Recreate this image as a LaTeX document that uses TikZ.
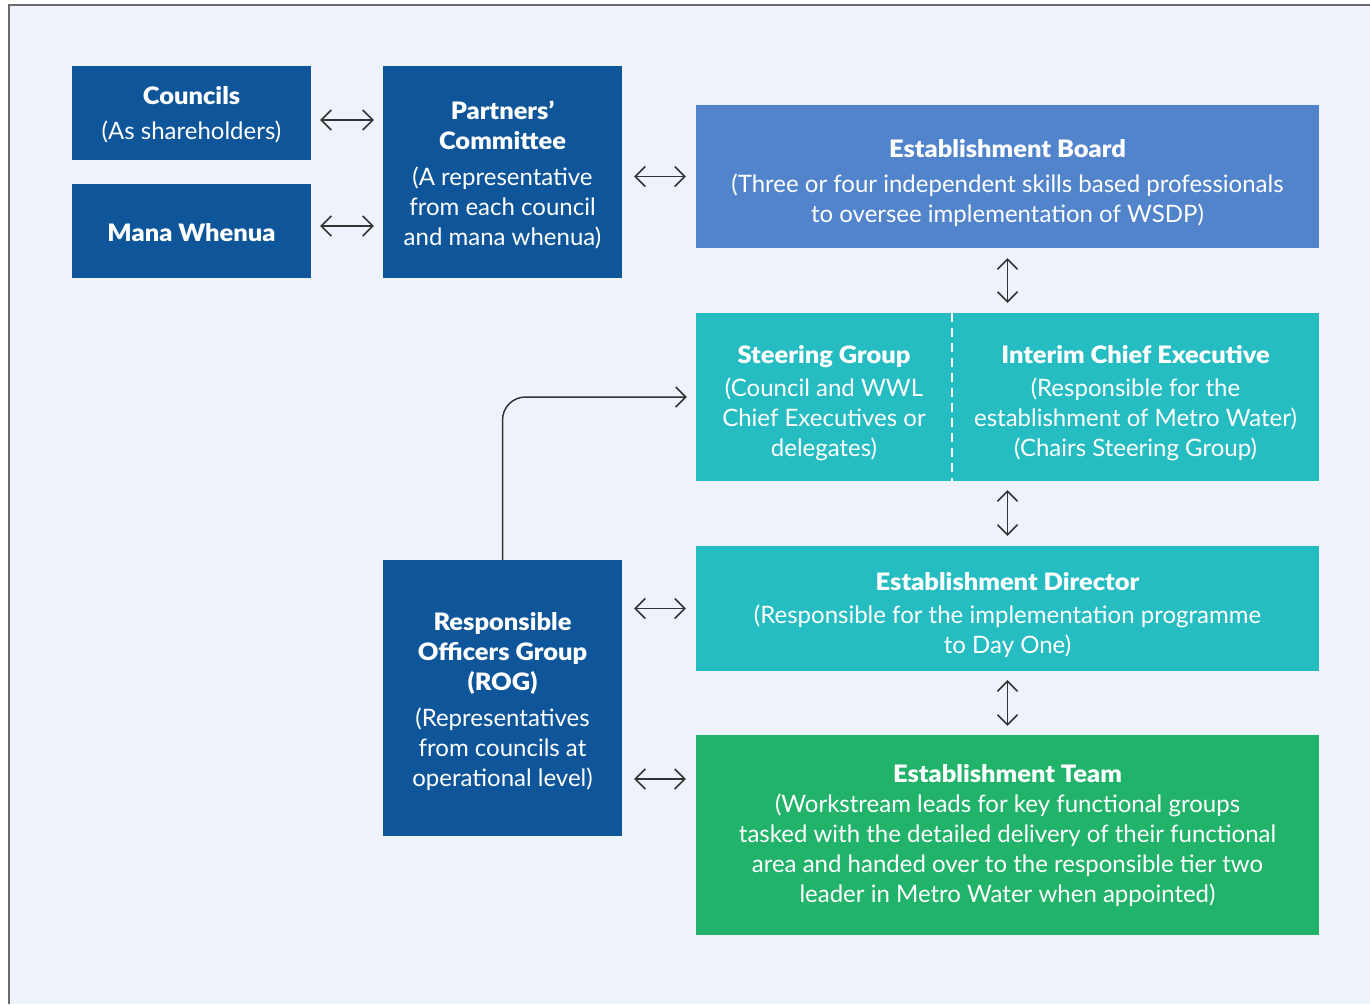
\documentclass[tikz,border=0pt]{standalone}
\usepackage{fontspec}
\setmainfont{Lato}
\newfontfamily\titlefont[FakeStretch=1.06]{Lato Black}
\newcommand{\ttl}[1]{{\titlefont #1}}
\usetikzlibrary{arrows.meta}
\definecolor{bg}{HTML}{EEF2FA}
\definecolor{dblue}{HTML}{0E5699}
\definecolor{mblue}{HTML}{5284CC}
\definecolor{teal}{HTML}{26BDC2}
\definecolor{green}{HTML}{22B36A}
\definecolor{arrowgray}{HTML}{333333}
\definecolor{frame}{HTML}{6B6B6B}
\begin{document}
\begin{tikzpicture}[x=1pt,y=-1pt,
  box/.style={rectangle, inner sep=0pt},
  txt/.style={inner sep=0pt, text=white, align=center,
    font=\fontsize{24}{30}\selectfont},
  arr/.style={draw=arrowgray, line width=1.5pt,
    {Straight Barb[length=10pt,width=20pt]}-{Straight Barb[length=10pt,width=20pt]}},
  oneway/.style={draw=arrowgray, line width=1.5pt, -{Straight Barb[length=10pt,width=20pt]}}]
\useasboundingbox (0,0) rectangle (1370,1004);
\fill[white] (0,0) rectangle (1370,1004);
\fill[bg] (9,5) rectangle (1370,1004);
\draw[frame, line width=1.5pt] (9,1004) -- (9,5) -- (1370,5);

% boxes
\node[box, fill=dblue, minimum width=239pt, minimum height=94pt] (councils) at (191.5,113) {};
\node[box, fill=dblue, minimum width=239pt, minimum height=94pt] (mana) at (191.5,231) {};
\node[box, fill=dblue, minimum width=239pt, minimum height=212pt] (partners) at (502.5,172) {};
\node[box, fill=mblue, minimum width=623pt, minimum height=143pt] (board) at (1007.5,176.5) {};
\node[box, fill=teal, minimum width=256pt, minimum height=168pt] (steer) at (824,397) {};
\node[box, fill=teal, minimum width=367pt, minimum height=168pt] (interim) at (1135.5,397) {};
\draw[white, line width=2.5pt, dash pattern=on 9pt off 6pt] (steer.north east) -- (steer.south east);
\node[box, fill=teal, minimum width=623pt, minimum height=125pt] (director) at (1007.5,608.5) {};
\node[box, fill=green, minimum width=623pt, minimum height=200pt] (team) at (1007.5,835) {};
\node[box, fill=dblue, minimum width=239pt, minimum height=276pt] (rog) at (502.5,698) {};

% texts
\node[txt] (councils-t) at ([yshift=-2pt]councils.center)
  {\ttl{Councils}\\[5pt](As shareholders)};
\node[txt] (mana-t) at ([yshift=-1.5pt]mana.center) {\ttl{Mana Whenua}};
\node[txt] (partners-t) at ([yshift=-3pt]partners.center)
  {\ttl{Partners’}\\\ttl{Committee}\\[6pt](A representative\\from each council\\and mana whenua)};
\node[txt] (board-t) at ([yshift=-6.5pt]board.center)
  {\ttl{Establishment Board}\\[5pt](Three or four independent skills based professionals\\to oversee implementation of WSDP)};
\node[txt] (steer-t) at ([yshift=-6pt]steer.center)
  {\ttl{Steering Group}\\[3pt](Council and WWL\\Chief Executives or\\delegates)};
\node[txt] (interim-t) at ([yshift=-6pt]interim.center)
  {\ttl{Interim Chief Executive}\\[3pt](Responsible for the\\establishment of Metro Water)\\(Chairs Steering Group)};
\node[txt] (director-t) at ([yshift=-6.5pt]director.center)
  {\ttl{Establishment Director}\\[3pt](Responsible for the implementation programme\\to Day One)};
\node[txt] (team-t) at ([yshift=-1pt]team.center)
  {\ttl{Establishment Team}\\(Workstream leads for key functional groups\\tasked with the detailed delivery of their functional\\area and handed over to the responsible tier two\\leader in Metro Water when appointed)};
\node[txt] (rog-t) at ([yshift=-4pt]rog.center)
  {\ttl{Responsible}\\\ttl{Officers Group}\\\ttl{(ROG)}\\[6pt](Representatives\\from councils at\\operational level)};

% connectors
\draw[arr, shorten <=9pt, shorten >=9pt] (councils.east |- 0,120) coordinate (c1) -- (partners.west |- 0,120) coordinate (p1);
\draw[arr, shorten <=9pt, shorten >=9pt] (mana.east |- 0,226) coordinate (m1) -- (partners.west |- 0,226) coordinate (p2);
\draw[arr, shorten <=12pt, shorten >=10pt] (partners.east |- board.west) -- (board.west);
\draw[arr, shorten <=10pt, shorten >=10pt] (board.south) -- (board.south |- interim.north);
\draw[arr, shorten <=9pt, shorten >=10pt] (board.south |- interim.south) -- (director.north);
\draw[arr, shorten <=9pt, shorten >=9pt] (director.south) -- (team.north);
\draw[arr, shorten <=12pt, shorten >=10pt] (rog.east |- director.west) -- (director.west);
\draw[arr, shorten <=12pt, shorten >=10pt] (rog.east |- 0,779) coordinate (r1) -- (team.west |- 0,779) coordinate (t1);
\draw[oneway, rounded corners=23pt, shorten >=9pt] (rog.north) |- (steer.west);
\end{tikzpicture}
\end{document}
